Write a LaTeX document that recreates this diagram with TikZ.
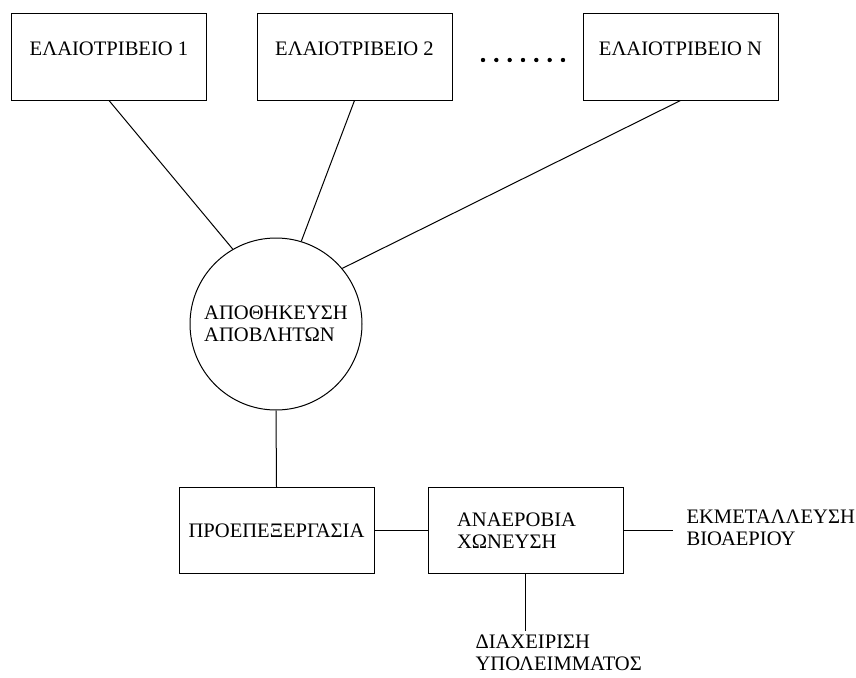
\documentclass[tikz,border=0pt]{standalone}
\usepackage{fontspec}
\setmainfont{Liberation Serif}
\usetikzlibrary{positioning}
\tikzset{
	every node/.style={font=\fontsize{20.6}{22}\selectfont},
	box/.style={draw, minimum width=195pt, minimum height=86pt, inner sep=0pt},
	millbox/.style={box, text height=13pt, text depth=15pt},
	tank/.style={draw, circle, minimum size=172pt, inner sep=0pt, align=left},
	note/.style={inner sep=0pt, align=left},
}

\begin{document}
\begin{tikzpicture}[x=1pt, y=-1pt, line width=1pt]
	\useasboundingbox (0,0) rectangle (856,677);

	\node[millbox] (mill1) at (109,57) {ΕΛΑΙΟΤΡΙΒΕΙΟ 1};
	\node[millbox] (mill2) at (354.5,57) {ΕΛΑΙΟΤΡΙΒΕΙΟ 2};
	\node[millbox] (millN) at (680.5,57) {ΕΛΑΙΟΤΡΙΒΕΙΟ Ν};
	\foreach \i in {0,...,6}
		\fill (483+13.33*\i,60) circle (2.2pt);

	\node[tank] (storage) at (276,324) {ΑΠΟΘΗΚΕΥΣΗ\\ΑΠΟΒΛΗΤΩΝ};

	\node[box] (pretreat) at (276.5,530.5) {ΠΡΟΕΠΕΞΕΡΓΑΣΙΑ};
	\node[box, inner xsep=29pt, text width=137pt, align=left] (digest) at (525.5,530.5) {ΑΝΑΕΡΟΒΙΑ\\ΧΩΝΕΥΣΗ};

	\node[note, anchor=west] (biogas) at (686,528) {ΕΚΜΕΤΑΛΛΕΥΣΗ\\ΒΙΟΑΕΡΙΟΥ};
	\node[note, anchor=north west] (residue) at (475,634) {ΔΙΑΧΕΙΡΙΣΗ\\ΥΠΟΛΕΙΜΜΑΤΟΣ};

	\draw (mill1.south) -- (storage.120);
	\draw (mill2.south) -- (storage.73);
	\draw (millN.south) -- (storage.40);
	\draw (storage.south) -- (pretreat.north);
	\draw (pretreat.east) -- (digest.west);
	\draw[shorten >=13pt] (digest.east) -- (digest.east -| biogas.west);
	\draw (digest.south) -- ++(0,57);
\end{tikzpicture}
\end{document}
